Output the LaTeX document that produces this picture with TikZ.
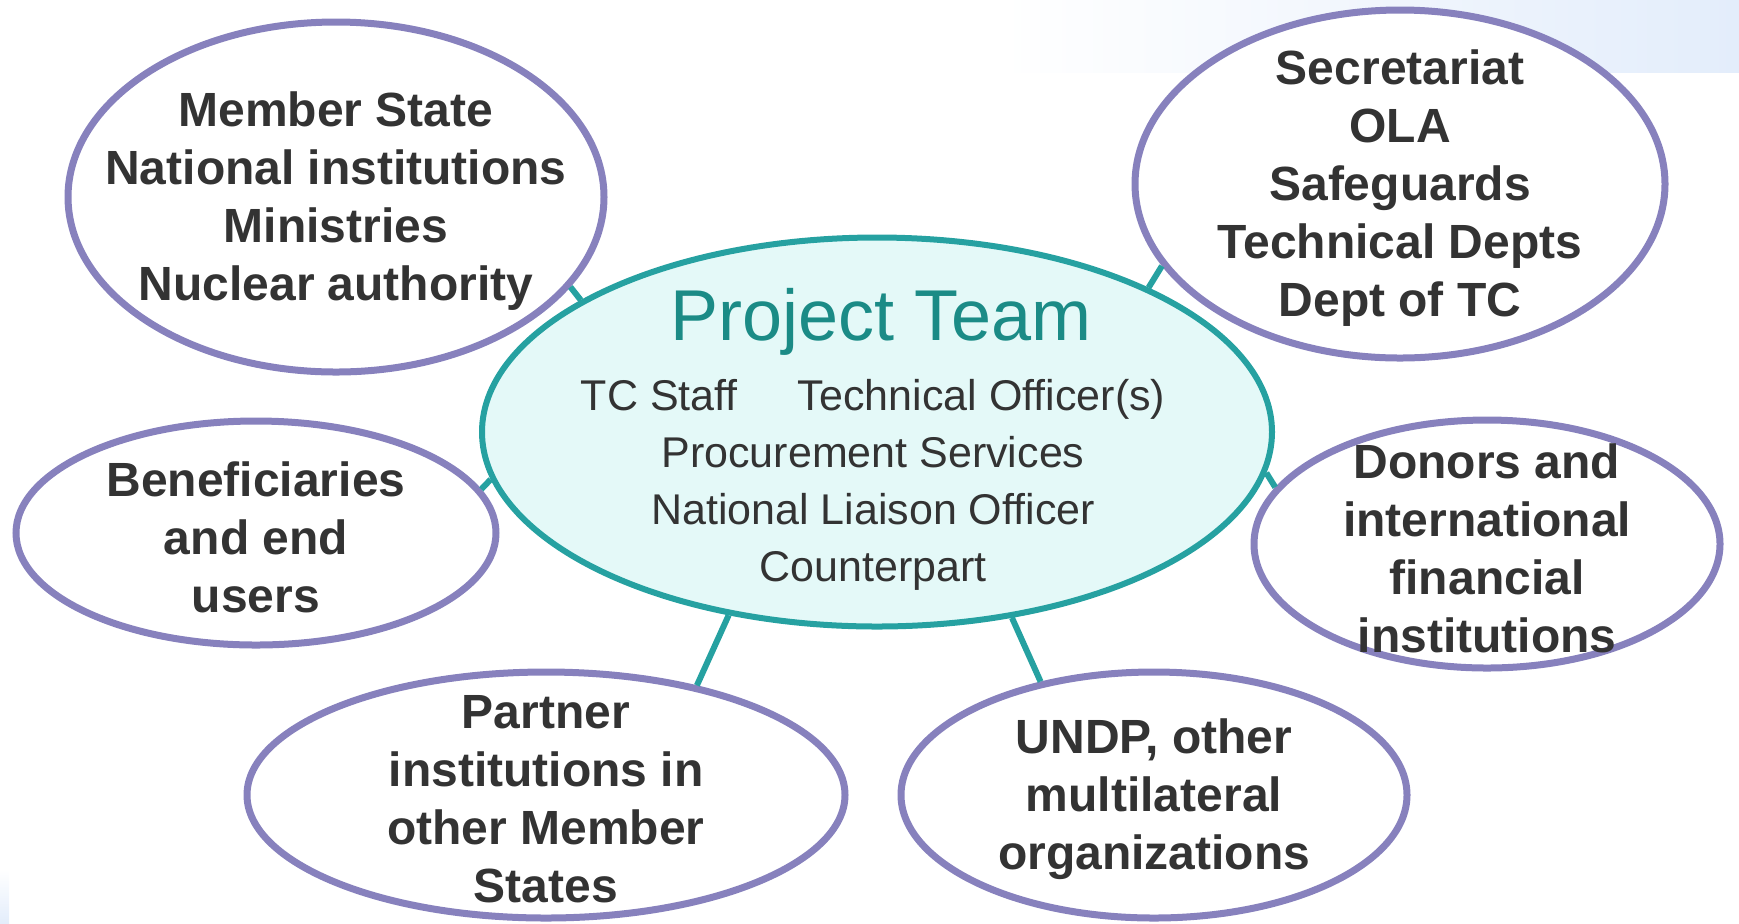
\documentclass[tikz,border=0pt]{standalone}
\usepackage{fontspec}
\setmainfont{Liberation Sans}
\usetikzlibrary{shapes.geometric}

\definecolor{partyline}{HTML}{8781BD}
\definecolor{teamline}{HTML}{26A1A1}
\definecolor{teamfill}{HTML}{E4F9F8}
\definecolor{teamtitle}{HTML}{1B8B86}
\definecolor{textgray}{HTML}{333333}
\definecolor{bgblue}{HTML}{E3EDFB}

\begin{document}
\begin{tikzpicture}[x=0.5pt, y=-0.5pt,
  party/.style={ellipse, draw=partyline, line width=3.5pt, fill=white, inner sep=0pt},
  partytext/.style={text=textgray, align=center, yshift=-2pt, font=\bfseries\fontsize{24}{29}\selectfont},
  team/.style={ellipse, draw=teamline, line width=3pt, fill=teamfill, inner sep=0pt},
  link/.style={draw=teamline, line width=3pt}]

%% Fix the page size
\useasboundingbox (0,0) rectangle (1739,923);
%% Faint slide background in the corners
\shade[left color=white, right color=bgblue] (1000,0) rectangle (1739,72);
\shade[top color=white, bottom color=bgblue] (0,870) rectangle (9,923);

%% Place the Project Team in the middle and name it team
\node[team, minimum width=395pt, minimum height=194.5pt] (team) at (877,432) {};
\node[font=\fontsize{36}{40}\selectfont, text=teamtitle, anchor=base] (title) at (881,340) {Project Team};
\node[text=textgray, align=center, font=\fontsize{21.5}{28.5}\selectfont] (staff) at (873,485)
  {TC Staff\hspace{1.4em}Technical Officer(s)\\Procurement Services\\National Liaison Officer\\Counterpart};

%% Place the six partners round the team
\node[party, minimum width=268pt, minimum height=175pt,
  label={[partytext]center:{Member State\\National institutions\\Ministries\\Nuclear authority}}] (state) at (336,197) {};
\node[party, minimum width=265pt, minimum height=174pt,
  label={[partytext]center:{Secretariat\\OLA\\Safeguards\\Technical Depts\\Dept of TC}}] (secretariat) at (1400,184) {};
\node[party, minimum width=240pt, minimum height=112pt,
  label={[partytext]center:{Beneficiaries\\and end\\users}}] (users) at (256,533) {};
\node[party, minimum width=233pt, minimum height=124pt,
  label={[partytext]center:{Donors and\\international\\financial\\institutions}}] (donors) at (1487,544) {};
\node[party, minimum width=299pt, minimum height=123pt,
  label={[partytext]center:{Partner\\institutions in\\other Member\\States}}] (partners) at (546,795) {};
\node[party, minimum width=253pt, minimum height=123pt,
  label={[partytext]center:{UNDP, other\\multilateral\\organizations}}] (undp) at (1154,795) {};

%% Draw the short links from the team to each partner
\draw[link] (team.156.4) -- (state.-21.8);
\draw[link] (team.28.2) -- (secretariat.199.9);
\draw[link] (team.187.1) -- (users.11.5);
\draw[link] (team.-6.8) -- (donors.165.7);
\draw[link] (team.231.1) -- (partners.36.9);
\draw[link] (team.-54.6) -- (undp.135.2);

\end{tikzpicture}
\end{document}
